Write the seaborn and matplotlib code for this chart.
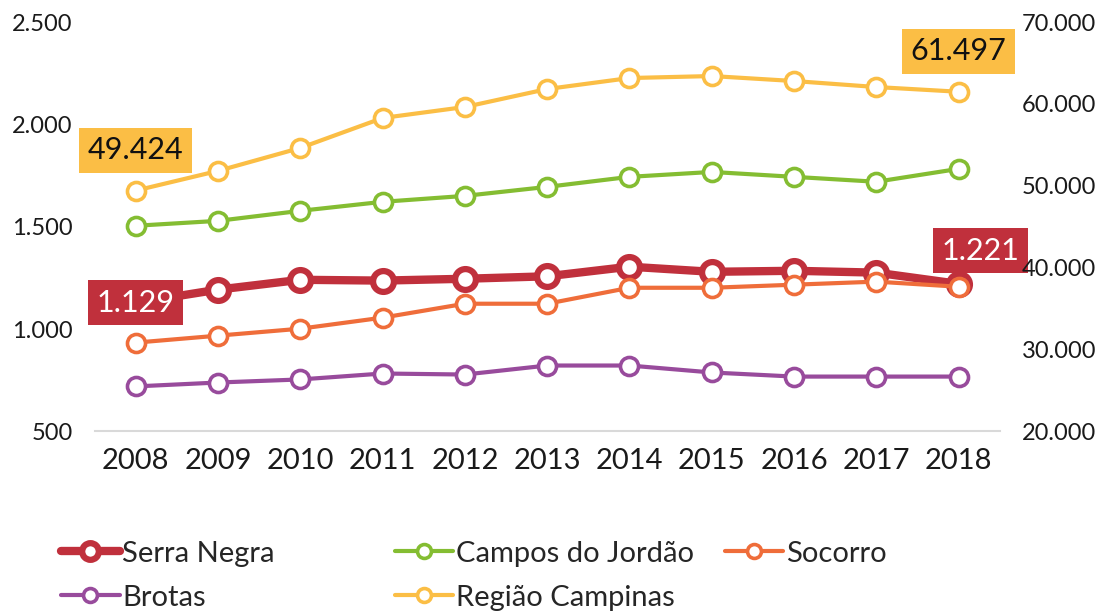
import numpy as np
import pandas as pd
import matplotlib
matplotlib.use("Agg")
import matplotlib.pyplot as plt
from matplotlib.ticker import FuncFormatter
from matplotlib.lines import Line2D
import seaborn as sns

# data
years = [2008, 2009, 2010, 2011, 2012, 2013, 2014, 2015, 2016, 2017, 2018]
serra_negra = [1129, 1193, 1241, 1237, 1246, 1258, 1305, 1280, 1285, 1276, 1221]
campos_jordao = [1505, 1529, 1578, 1622, 1651, 1695, 1744, 1768, 1744, 1720, 1783]
socorro = [934, 968, 1002, 1056, 1124, 1124, 1202, 1202, 1217, 1232, 1207]
brotas = [720, 739, 754, 783, 778, 822, 822, 788, 768, 768, 768]
regiao_campinas = [49424, 51829, 54634, 58293, 59634, 61829, 63171, 63415, 62805, 62073, 61497]

left_ticks = [500, 1000, 1500, 2000, 2500]
right_ticks = [20000, 30000, 40000, 50000, 60000, 70000]

c_serra = "#C0303C"
c_campos = "#84BD32"
c_socorro = "#EF6D3A"
c_brotas = "#984B9C"
c_regiao = "#FBBE45"

sns.set_style("white")
plt.rcParams['font.family'] = ['Lato', 'DejaVu Sans']

df = pd.DataFrame({"ano": years, "Serra Negra": serra_negra,
                   "Campos do Jordão": campos_jordao, "Socorro": socorro,
                   "Brotas": brotas, "Região Campinas": regiao_campinas})

fig = plt.figure(figsize=(11.01, 6.15), dpi=100)
ax = fig.add_axes([0.086, 0.2985, 0.822, 0.6655])
ax2 = ax.twinx()

thin = dict(marker="o", markersize=13, markerfacecolor="white", markeredgewidth=2.6, linewidth=3)
thick = dict(marker="o", markersize=15, markerfacecolor="white", markeredgewidth=4.5, linewidth=6)

sns.lineplot(data=df, x="ano", y="Brotas", ax=ax, color=c_brotas, markeredgecolor=c_brotas, **thin)
sns.lineplot(data=df, x="ano", y="Campos do Jordão", ax=ax, color=c_campos, markeredgecolor=c_campos, **thin)
sns.lineplot(data=df, x="ano", y="Serra Negra", ax=ax, color=c_serra, markeredgecolor=c_serra, **thick)
sns.lineplot(data=df, x="ano", y="Socorro", ax=ax, color=c_socorro, markeredgecolor=c_socorro, **thin)
sns.lineplot(data=df, x="ano", y="Região Campinas", ax=ax2, color=c_regiao, markeredgecolor=c_regiao, **thin)

def br(v, pos=None):
    return "{:,.0f}".format(v).replace(",", ".")

ax.set_xlim(2007.5, 2018.5)
ax.set_ylim(500, 2500)
ax2.set_ylim(20000, 70000)
ax.set_yticks(left_ticks)
ax2.set_yticks(right_ticks)
ax.set_xticks(years)
ax.yaxis.set_major_formatter(FuncFormatter(br))
ax2.yaxis.set_major_formatter(FuncFormatter(br))
ax.set_xlabel("")
ax.set_ylabel("")
ax2.set_ylabel("")

for a in (ax, ax2):
    for s in a.spines.values():
        s.set_visible(False)
    a.grid(False)
ax.spines["bottom"].set_visible(True)
ax.spines["bottom"].set_color("#D9D9D9")
ax.spines["bottom"].set_linewidth(1.5)
ax.tick_params(axis="y", length=0, pad=16, labelsize=17, colors="#1a1a1a")
ax.tick_params(axis="x", length=0, pad=12, labelsize=21, colors="#1a1a1a")
ax2.tick_params(axis="y", length=0, pad=16, labelsize=17, colors="#1a1a1a")

# data labels
lab = dict(textcoords="offset points", ha="center", va="center", fontsize=22)
ax2.annotate(br(regiao_campinas[0]), (years[0], regiao_campinas[0]), xytext=(0, 29),
             color="#111111", bbox=dict(boxstyle="square,pad=0.28", fc=c_regiao, ec="none"), **lab)
ax2.annotate(br(regiao_campinas[-1]), (years[-1], regiao_campinas[-1]), xytext=(0, 29),
             color="#111111", bbox=dict(boxstyle="square,pad=0.28", fc=c_regiao, ec="none"), **lab)
ax.annotate(br(serra_negra[0]), (years[0], serra_negra[0]), xytext=(0, 0),
            color="white", bbox=dict(boxstyle="square,pad=0.28", fc=c_serra, ec="none"), **lab)
ax.annotate(br(serra_negra[-1]), (years[-1], serra_negra[-1]), xytext=(16, 24),
            color="white", bbox=dict(boxstyle="square,pad=0.28", fc=c_serra, ec="none"),
            zorder=10, **lab)

# legend, three columns like the original
def handle(color, st):
    s = dict(st)
    s["markersize"] = s["markersize"] - 3
    return Line2D([], [], color=color, markeredgecolor=color, **s)

cols = [
    ([handle(c_serra, thick), handle(c_brotas, thin)], ["Serra Negra", "Brotas"], 0.045),
    ([handle(c_campos, thin), handle(c_regiao, thin)], ["Campos do Jordão", "Região Campinas"], 0.348),
    ([handle(c_socorro, thin)], ["Socorro"], 0.648),
]
for h, l, x0 in cols:
    fig.legend(h, l, loc="upper left", bbox_to_anchor=(x0, 0.14), frameon=False,
               fontsize=21, handlelength=2.0, handletextpad=0.1, labelspacing=0.62,
               borderaxespad=0)

fig.savefig("out.png", dpi=100)
